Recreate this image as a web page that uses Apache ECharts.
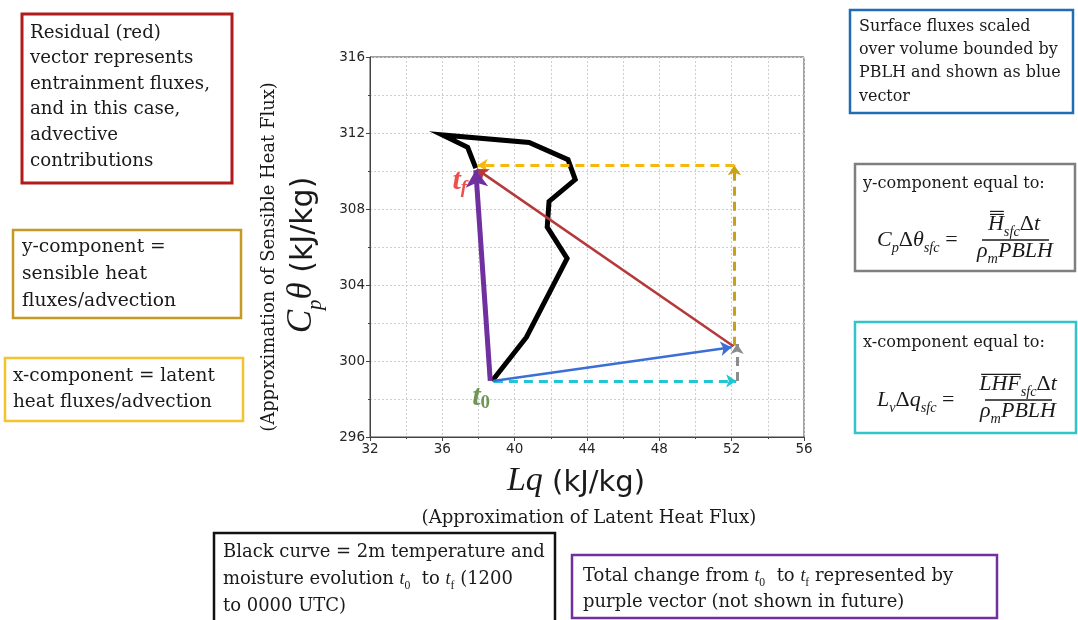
<!DOCTYPE html>
<html><head><meta charset="utf-8">
<script src="https://cdn.jsdelivr.net/npm/echarts@6/dist/echarts.min.js"></script>
<style>html,body{margin:0;padding:0;background:#fff}#c{width:1078px;height:620px}</style>
</head><body><div id="c"></div>
<script>
// ---- data ----
const xMin = 32, xMax = 56, xStep = 4;
const yMin = 296, yMax = 316, yStep = 4;
// black curve: 2 m temperature / moisture evolution (Lq, Cp*theta), t0 -> tf
const curveLq      = [38.75, 40.65, 42.9, 41.8, 41.9, 43.35, 42.95, 40.8, 36.0, 37.4, 37.85];
const curveCpTheta = [298.95, 301.25, 305.4, 307.05, 308.4, 309.55, 310.6, 311.5, 311.9, 311.25, 310.15];
// vectors [startLq, startCpTheta, endLq, endCpTheta]
const vecPurple = [38.65, 298.95, 37.85, 310.05];
const vecBlue   = [38.8, 298.95, 52.0, 300.72];
const vecRed    = [52.1, 300.78, 37.9, 310.1];
const vecCyan   = [38.85, 298.95, 52.25, 298.95];
const vecGray   = [52.3, 298.95, 52.3, 300.9];
const vecGold   = [52.15, 300.8, 52.15, 310.3];
const vecOrange = [52.15, 310.3, 37.95, 310.3];
const pointT0 = [38.7, 298.95];
const pointTf = [37.85, 310.15];

// ---- helpers ----
const SERIF = '"DejaVu Serif", "Liberation Serif", serif';
const MATH = '"Liberation Serif", "DejaVu Serif", serif';
const SANS = '"DejaVu Sans", sans-serif';
const TXT = '#1a1a1a';
const mctx = document.createElement('canvas').getContext('2d');
function fnt(size, italic, bold, fam) { return (italic ? 'italic ' : '') + (bold ? 'bold ' : '') + size + 'px ' + (fam || SERIF); }
function measure(t, f) { mctx.font = f; return mctx.measureText(t).width; }
function fit(t, target, fam) { return 100 * target / measure(t, fnt(100, false, false, fam || SERIF)); }
function layoutRuns(items, base, fam) {
  let x = 0; const out = [];
  items.forEach(it => {
    if (typeof it === 'string') it = { t: it };
    const size = it.size || (it.sub ? base * 0.65 : base);
    const f = fnt(size, it.it, it.bold, it.fam || fam);
    const dy = it.sub ? base * 0.25 : 0;
    out.push({ t: it.t, f, x, dy, size, fill: it.fill, over: it.over });
    x += measure(it.t, f);
  });
  return { parts: out, width: x };
}
function runsEls(x0, baseline, items, base, opts) {
  opts = opts || {};
  const L = layoutRuns(items, base, opts.fam);
  let sx = x0;
  if (opts.align === 'center') sx = x0 - L.width / 2;
  const els = [];
  L.parts.forEach(p => {
    els.push({ type: 'text', x: sx + p.x, y: baseline + p.dy - 0.34 * p.size, z: 100,
      style: { text: p.t, font: p.f, fill: p.fill || opts.fill || TXT, align: 'left', verticalAlign: 'middle' } });
    if (p.over) {
      const w = measure(p.t, p.f);
      for (let k = 0; k < p.over; k++) {
        const yy = baseline - p.size * 0.8 - k * 3;
        els.push({ type: 'line', z: 100, shape: { x1: sx + p.x + 2, y1: yy, x2: sx + p.x + w, y2: yy },
          style: { stroke: TXT, lineWidth: 1.2 } });
      }
    }
  });
  return { els, width: L.width };
}
function box(x1, y1, x2, y2, color, lw) {
  return { type: 'rect', z: 90, shape: { x: x1, y: y1, width: x2 - x1, height: y2 - y1 },
    style: { fill: '#fff', stroke: color, lineWidth: lw || 2.5 } };
}
function lines(x, baselines, texts, size) {
  const els = [];
  texts.forEach((t, i) => { els.push(...runsEls(x, baselines[i], Array.isArray(t) ? t : [t], size).els); });
  return els;
}
const tsub = s => [{ t: 't', it: true, fam: MATH }, { t: s, sub: true, fam: MATH }];

const G = [];
// Box 1: residual
G.push(box(22, 14, 232, 183, '#b01c1c', 3));
G.push(...lines(30, [39, 64.6, 90.2, 115.8, 141.4, 167],
  ['Residual (red)', 'vector represents', 'entrainment fluxes,', 'and in this case,', 'advective', 'contributions'],
  fit('entrainment fluxes,', 180)));
// Box 2: surface fluxes
G.push(box(850, 10, 1073, 113, '#1f6db5', 2.5));
G.push(...lines(859, [32, 55.3, 78.6, 101.9],
  ['Surface fluxes scaled', 'over volume bounded by', 'PBLH and shown as blue', 'vector'],
  fit('over volume bounded by', 199)));
// Box 3: y-component
G.push(box(13, 230, 241, 318, '#c49a22', 2.5));
G.push(...lines(22, [253, 280, 307], ['y-component =', 'sensible heat', 'fluxes/advection'], fit('fluxes/advection', 154)));
// Box 4: x-component
G.push(box(5, 358, 243, 421, '#f4c430', 2.5));
G.push(...lines(13, [382, 408], ['x-component = latent', 'heat fluxes/advection'], fit('heat fluxes/advection', 199)));
// Box 5: y-component formula
const FS = 22;
G.push(box(855, 164, 1075, 271, '#7f7f7f', 2.5));
G.push(...lines(863, [189], ['y-component equal to:'], fit('y-component equal to:', 182)));
G.push(...runsEls(877, 248, [{ t: 'C', it: true }, { t: 'p', it: true, sub: true }, 'Δ', { t: 'θ', it: true }, { t: 'sfc', it: true, sub: true }, ' = '], FS, { fam: MATH }).els);
G.push(...runsEls(1014, 232, [{ t: 'H', it: true, over: 2 }, { t: 'sfc', it: true, sub: true }, 'Δ', { t: 't', it: true }], FS, { align: 'center', fam: MATH }).els);
G.push({ type: 'line', z: 100, shape: { x1: 982, y1: 240, x2: 1049, y2: 240 }, style: { stroke: TXT, lineWidth: 1.5 } });
G.push(...runsEls(1015, 259, [{ t: 'ρ', it: true }, { t: 'm', it: true, sub: true }, { t: 'PBLH', it: true }], FS, { align: 'center', fam: MATH }).els);
// Box 6: x-component formula
G.push(box(855, 322, 1076, 433, '#33c4c8', 2.5));
G.push(...lines(863, [348], ['x-component equal to:'], fit('x-component equal to:', 182)));
G.push(...runsEls(877, 408, [{ t: 'L', it: true }, { t: 'v', it: true, sub: true }, 'Δ', { t: 'q', it: true }, { t: 'sfc', it: true, sub: true }, ' = '], FS, { fam: MATH }).els);
G.push(...runsEls(1018, 392, [{ t: 'LHF', it: true, over: 1 }, { t: 'sfc', it: true, sub: true }, 'Δ', { t: 't', it: true }], FS, { align: 'center', fam: MATH }).els);
G.push({ type: 'line', z: 100, shape: { x1: 985, y1: 400, x2: 1052, y2: 400 }, style: { stroke: TXT, lineWidth: 1.5 } });
G.push(...runsEls(1018, 419, [{ t: 'ρ', it: true }, { t: 'm', it: true, sub: true }, { t: 'PBLH', it: true }], FS, { align: 'center', fam: MATH }).els);
// Box 7: black curve
const s7 = fit('Black curve = 2m temperature and', 322);
G.push(box(214, 533, 555, 640, '#111', 2.5));
G.push(...lines(223, [558, 585, 612], [
  'Black curve = 2m temperature and',
  ['moisture evolution ', ...tsub('0'), '  to ', ...tsub('f'), ' (1200'],
  'to 0000 UTC)'], s7));
// Box 8: purple
G.push(box(572, 555, 997, 618, '#7030a0', 2.5));
G.push(...lines(583, [582, 608], [
  ['Total change from ', ...tsub('0'), '  to ', ...tsub('f'), ' represented by'],
  'purple vector (not shown in future)'], s7));
// X axis titles
G.push(...runsEls(576, 493, [{ t: 'Lq', it: true, size: 34, fam: MATH }, { t: ' (kJ/kg)', fam: SANS, size: 29 }], 34, { align: 'center' }).els);
G.push(...runsEls(589, 524, ['(Approximation of Latent Heat Flux)'], fit('(Approximation of Latent Heat Flux)', 335), { align: 'center' }).els);
// Y axis titles (rotated group)
(function () {
  const r1 = runsEls(0, 11, [{ t: 'C', it: true, size: 35, fam: MATH }, { t: 'p', it: true, size: 21, sub: true, fam: MATH }, { t: 'θ', it: true, size: 35, fam: MATH }, { t: ' (kJ/kg)', fam: SANS, size: 30 }], 35, { align: 'center' });
  G.push({ type: 'group', x: 303, y: 255, rotation: Math.PI / 2, children: r1.els });
  const r2 = runsEls(0, 7, ['(Approximation of Sensible Heat Flux)'], fit('(Approximation of Sensible Heat Flux)', 350), { align: 'center' });
  G.push({ type: 'group', x: 268, y: 257, rotation: Math.PI / 2, children: r2.els });
})();

// ---- series ----
function vec(v, color, width, dashed, size, z) {
  return {
    type: 'lines', coordinateSystem: 'cartesian2d', z: z || 5,
    symbol: ['none', 'arrow'], symbolSize: size,
    lineStyle: { color, width, type: dashed ? [9, 6] : 'solid', opacity: 1 },
    data: [{ coords: [[v[0], v[1]], [v[2], v[3]]] }], silent: true
  };
}
const LBL = { fontFamily: MATH, fontStyle: 'italic', fontWeight: 'bold' };
const series = [
  { type: 'line', data: curveLq.map((x, i) => [x, curveCpTheta[i]]), showSymbol: false, z: 3,
    lineStyle: { color: '#000', width: 5, join: 'miter' }, silent: true },
  vec(vecCyan, '#22c5d5', 3, true, 10, 4),
  vec(vecGray, '#8c8c8c', 3, true, 10, 4),
  vec(vecGold, '#c9a016', 3, true, 10, 4),
  vec(vecOrange, '#f5b80c', 3, true, 10, 4),
  vec(vecBlue, '#3b6fd6', 2.5, false, 11, 6),
  vec(vecRed, '#b5393b', 2.5, false, 11, 6),
  vec(vecPurple, '#7030a0', 5, false, 17, 7),
  { type: 'scatter', symbolSize: 0, z: 8, silent: true,
    data: [
      { value: pointT0, label: { show: true, formatter: '{t|t}{s|0}', offset: [-10, 16],
        rich: { t: Object.assign({ color: '#4a7c2c', fontSize: 30, lineHeight: 32, verticalAlign: 'middle' }, LBL),
                s: Object.assign({ color: '#4a7c2c', fontSize: 19, lineHeight: 19, verticalAlign: 'bottom' }, LBL, { fontStyle: 'normal' }) } } },
      { value: pointTf, label: { show: true, formatter: '{t|t}{s|f}', offset: [-16, 13],
        rich: { t: Object.assign({ color: '#e8231e', fontSize: 30, lineHeight: 32, verticalAlign: 'middle' }, LBL),
                s: Object.assign({ color: '#e8231e', fontSize: 19, lineHeight: 19, verticalAlign: 'bottom' }, LBL) } } }
    ],
    label: { position: 'inside' }
  }
];

const gridStyle = { show: true, lineStyle: { color: '#cfcfcf', type: [2, 2], width: 1 } };
const axisCommon = {
  axisLine: { show: true, onZero: false, lineStyle: { color: '#444', width: 1 } },
  axisTick: { show: true, length: 4, lineStyle: { color: '#444' } },
  minorTick: { show: true, splitNumber: 2, length: 2, lineStyle: { color: '#444' } },
  splitLine: gridStyle, minorSplitLine: gridStyle,
  axisLabel: { color: '#262626', fontFamily: SANS, fontSize: 13.5, margin: 5 }
};
const chart = echarts.init(document.getElementById('c'), null, { renderer: 'canvas' });
chart.setOption({
  animation: false,
  backgroundColor: '#fff',
  grid: { left: 370, right: 274, top: 57, bottom: 183, show: true, borderColor: '#444', borderWidth: 1 },
  xAxis: Object.assign({ type: 'value', min: xMin, max: xMax, interval: xStep }, axisCommon),
  yAxis: Object.assign({ type: 'value', min: yMin, max: yMax, interval: yStep }, axisCommon),
  series,
  graphic: G
});
</script></body></html>
